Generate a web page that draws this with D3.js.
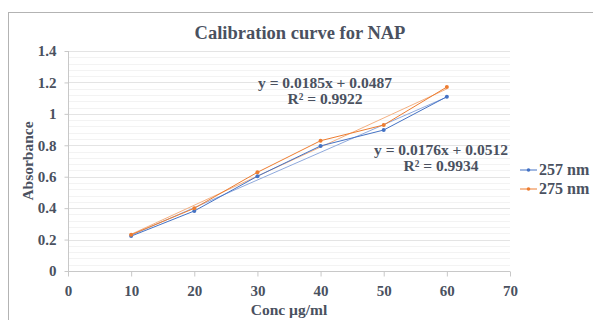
<!DOCTYPE html>
<html>
<head>
<meta charset="utf-8">
<script src="https://cdn.jsdelivr.net/npm/d3@7"></script>
<style>
  body { margin: 0; background: #fff; }
  text { font-family: "Liberation Serif", "Times New Roman", serif; font-weight: bold; }
</style>
</head>
<body>
<div id="chart"></div>
<script>
// data
const conc = [10, 20, 30, 40, 50, 60];
const abs257 = [0.222, 0.382, 0.603, 0.796, 0.897, 1.109];
const abs275 = [0.231, 0.399, 0.628, 0.829, 0.929, 1.171];
const seriesNames = ["257 nm", "275 nm"];
const xTicks = [0, 10, 20, 30, 40, 50, 60, 70];
const yTicks = [0, 0.2, 0.4, 0.6, 0.8, 1, 1.2, 1.4];
// trendline equations as printed on the chart
const slopes = [0.0176, 0.0185];
const intercepts = [0.0512, 0.0487];
const eqLabels = ["y = 0.0176x + 0.0512", "y = 0.0185x + 0.0487"];
const r2Labels = ["R\u00b2 = 0.9934", "R\u00b2 = 0.9922"];

const width = 593, height = 320;
const margin = { top: 51, right: 83, bottom: 49, left: 68 };
const colors = ["#4472c4", "#ed7d31"];
const trendColors = ["#8fa9dc", "#f4b183"];
const textColor = "#4a5160";

const svg = d3.select("#chart").append("svg")
  .attr("width", width)
  .attr("height", height);

// outer chart frame
svg.append("rect")
  .attr("x", 8.5).attr("y", 12.5)
  .attr("width", width + 10).attr("height", height + 10)
  .attr("fill", "none")
  .attr("stroke", "#b3b3b3");

const x = d3.scaleLinear().domain([0, 70]).range([margin.left, width - margin.right]);
const y = d3.scaleLinear().domain([0, 1.4]).range([height - margin.bottom, margin.top]);

// minor gridlines
svg.append("g")
  .selectAll("line")
  .data(d3.range(0, 1.4001, 0.04))
  .join("line")
  .attr("x1", x(0)).attr("x2", x(70))
  .attr("y1", d => Math.round(y(d)) + 0.5).attr("y2", d => Math.round(y(d)) + 0.5)
  .attr("stroke", "#f3f3f3");

// major gridlines
svg.append("g")
  .selectAll("line")
  .data(yTicks.slice(1))
  .join("line")
  .attr("x1", x(0)).attr("x2", x(70))
  .attr("y1", d => Math.round(y(d)) + 0.5).attr("y2", d => Math.round(y(d)) + 0.5)
  .attr("stroke", "#e4e4e4");

// axes
const xAxis = svg.append("g")
  .attr("transform", "translate(0," + (Math.round(y(0)) + 0.5) + ")")
  .call(d3.axisBottom(x).tickValues(xTicks).tickSize(5).tickPadding(9).tickFormat(d3.format("d")));

const yAxis = svg.append("g")
  .attr("transform", "translate(" + (Math.round(x(0)) + 0.5) + ",0)")
  .call(d3.axisLeft(y).tickValues(yTicks).tickSize(4).tickPadding(8).tickFormat(d => d));

[xAxis, yAxis].forEach(a => {
  a.select(".domain").attr("stroke", "#c8c8c8");
  a.selectAll(".tick line").attr("stroke", "#c8c8c8");
  a.selectAll(".tick text")
    .attr("fill", textColor)
    .style("font-size", "15px")
    .style("font-family", "'Liberation Serif', serif")
    .style("font-weight", "bold");
});
xAxis.select(".domain").attr("d", "M" + x(0) + ",0H" + x(70));
yAxis.select(".domain").attr("d", "M0," + y(0) + "V" + y(1.4));

// trendlines
[0, 1].forEach(i => {
  svg.append("line")
    .attr("x1", x(conc[0])).attr("y1", y(slopes[i] * conc[0] + intercepts[i]))
    .attr("x2", x(conc[conc.length - 1])).attr("y2", y(slopes[i] * conc[conc.length - 1] + intercepts[i]))
    .attr("stroke", trendColors[i])
    .attr("stroke-width", 1);
});

// data series
const series = [abs257, abs275];
const line = d3.line().x((d, i) => x(conc[i])).y(d => y(d));
series.forEach((vals, i) => {
  svg.append("path")
    .datum(vals)
    .attr("d", line)
    .attr("fill", "none")
    .attr("stroke", colors[i])
    .attr("stroke-width", 1);
  svg.append("g")
    .selectAll("circle")
    .data(vals)
    .join("circle")
    .attr("cx", (d, j) => x(conc[j]))
    .attr("cy", d => y(d))
    .attr("r", 2)
    .attr("fill", colors[i]);
});

// equation labels
const eqPos = [[441, 155], [325, 88]];
[0, 1].forEach(i => {
  svg.append("text")
    .attr("x", eqPos[i][0]).attr("y", eqPos[i][1])
    .attr("text-anchor", "middle")
    .attr("fill", textColor)
    .style("font-size", "15.5px")
    .text(eqLabels[i]);
  svg.append("text")
    .attr("x", eqPos[i][0]).attr("y", eqPos[i][1] + 16)
    .attr("text-anchor", "middle")
    .attr("fill", textColor)
    .style("font-size", "15.5px")
    .text(r2Labels[i]);
});

// title
svg.append("text")
  .attr("x", 300).attr("y", 39)
  .attr("text-anchor", "middle")
  .attr("fill", textColor)
  .style("font-size", "18.5px")
  .text("Calibration curve for NAP");

// axis titles
svg.append("text")
  .attr("x", 289).attr("y", 315)
  .attr("text-anchor", "middle")
  .attr("fill", textColor)
  .style("font-size", "15.5px")
  .text("Conc \u00b5g/ml");

svg.append("text")
  .attr("transform", "translate(33,161) rotate(-90)")
  .attr("text-anchor", "middle")
  .attr("fill", textColor)
  .style("font-size", "15.5px")
  .text("Absorbance");

// legend
const legend = svg.append("g").attr("transform", "translate(520,0)");
seriesNames.forEach((name, i) => {
  const ly = 170 + i * 19;
  legend.append("line")
    .attr("x1", 0).attr("x2", 17).attr("y1", ly).attr("y2", ly)
    .attr("stroke", colors[i]);
  legend.append("circle")
    .attr("cx", 8.5).attr("cy", ly).attr("r", 1.8)
    .attr("fill", colors[i]);
  legend.append("text")
    .attr("x", 19).attr("y", ly + 5)
    .attr("fill", textColor)
    .style("font-size", "16px")
    .text(name);
});
</script>
</body>
</html>
